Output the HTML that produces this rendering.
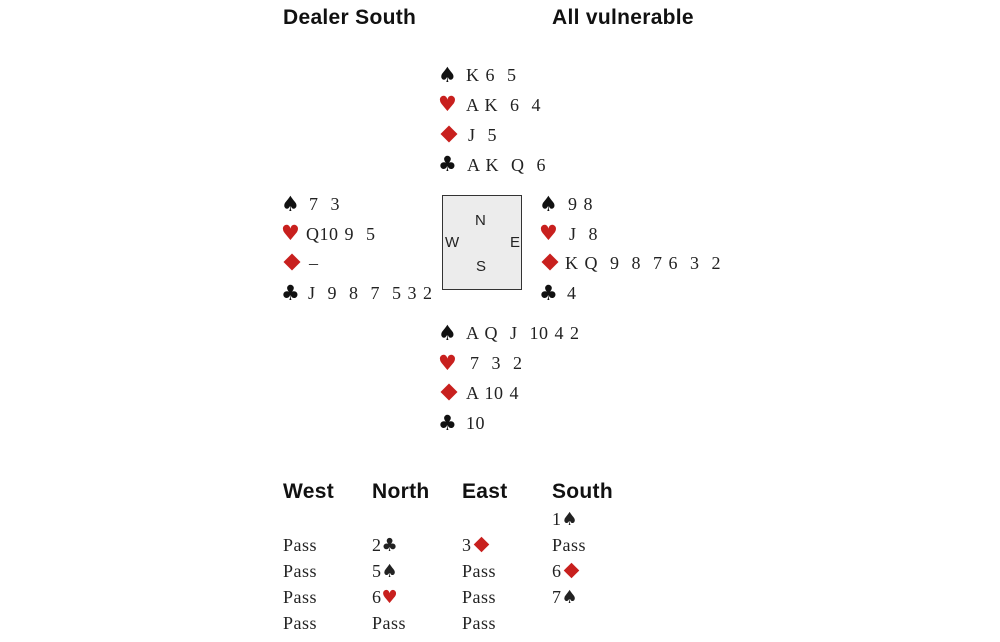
<!DOCTYPE html>
<html><head><meta charset="utf-8"><style>
body{margin:0;width:1000px;height:642px;background:#fff;position:relative;overflow:hidden;font-family:"Liberation Serif",serif;color:#222}
.t{position:absolute;font-size:18px;line-height:20px;white-space:pre;word-spacing:1px;letter-spacing:0.5px}
.h{position:absolute;font-family:"Liberation Sans",sans-serif;font-weight:bold;font-size:21px;line-height:24px;color:#111;white-space:pre;letter-spacing:0.3px}
.s{position:absolute;font-family:"DejaVu Sans",sans-serif;font-size:21px;line-height:20px;color:#111}
.r{color:#c8201e}
.d{position:absolute;width:12px;height:12px;background:#c8201e;transform:rotate(45deg)}
.di{display:inline-block;width:11px;height:11px;background:#c8201e;transform:rotate(45deg);margin-left:4px;vertical-align:1px}
.box{position:absolute;left:442px;top:195px;width:78px;height:93px;background:#ececec;border:1.5px solid #333}
.c{position:absolute;font-family:"Liberation Sans",sans-serif;font-size:15px;line-height:16px;color:#222}
.sym{font-family:"DejaVu Sans",sans-serif;font-size:18px}
</style></head><body>
<div class="h" style="left:283px;top:6px">Dealer South</div>
<div class="h" style="left:552px;top:6px">All vulnerable</div>

<div class="s" style="left:438px;top:65px">♠</div><div class="t" style="left:466px;top:65px">K 6  5</div>
<div class="s r" style="left:438px;top:94px">♥</div><div class="t" style="left:466px;top:95px">A K  6  4</div>
<div class="d" style="left:443px;top:128px"></div><div class="t" style="left:468px;top:125px">J  5</div>
<div class="s" style="left:438px;top:154px">♣</div><div class="t" style="left:467px;top:155px">A K  Q  6</div>

<div class="s" style="left:281px;top:194px">♠</div><div class="t" style="left:309px;top:194px">7  3</div>
<div class="s r" style="left:281px;top:223px">♥</div><div class="t" style="left:306px;top:224px">Q10 9  5</div>
<div class="d" style="left:286px;top:256px"></div><div class="t" style="left:309px;top:253px">–</div>
<div class="s" style="left:281px;top:283px">♣</div><div class="t" style="left:308px;top:283px">J  9  8  7  5 3 2</div>

<div class="box"></div>
<div class="c" style="left:475px;top:213px">N</div>
<div class="c" style="left:445px;top:235px">W</div>
<div class="c" style="left:510px;top:235px">E</div>
<div class="c" style="left:476px;top:259px">S</div>

<div class="s" style="left:539px;top:194px">♠</div><div class="t" style="left:568px;top:194px">9 8</div>
<div class="s r" style="left:539px;top:223px">♥</div><div class="t" style="left:569px;top:224px">J  8</div>
<div class="d" style="left:544px;top:256px"></div><div class="t" style="left:565px;top:253px">K Q  9  8  7 6  3  2</div>
<div class="s" style="left:539px;top:283px">♣</div><div class="t" style="left:567px;top:283px">4</div>

<div class="s" style="left:438px;top:323px">♠</div><div class="t" style="left:466px;top:323px">A Q  J  10 4 2</div>
<div class="s r" style="left:438px;top:353px">♥</div><div class="t" style="left:470px;top:353px">7  3  2</div>
<div class="d" style="left:443px;top:386px"></div><div class="t" style="left:466px;top:383px">A 10 4</div>
<div class="s" style="left:438px;top:413px">♣</div><div class="t" style="left:466px;top:413px">10</div>

<div class="h" style="left:283px;top:480px">West</div>
<div class="h" style="left:372px;top:480px">North</div>
<div class="h" style="left:462px;top:480px">East</div>
<div class="h" style="left:552px;top:480px">South</div>

<div class="t" style="left:552px;top:509px">1<span class="sym">♠</span></div>
<div class="t" style="left:283px;top:535px">Pass</div><div class="t" style="left:372px;top:535px">2<span class="sym">♣</span></div><div class="t" style="left:462px;top:535px">3<span class="di"></span></div><div class="t" style="left:552px;top:535px">Pass</div>
<div class="t" style="left:283px;top:561px">Pass</div><div class="t" style="left:372px;top:561px">5<span class="sym">♠</span></div><div class="t" style="left:462px;top:561px">Pass</div><div class="t" style="left:552px;top:561px">6<span class="di"></span></div>
<div class="t" style="left:283px;top:587px">Pass</div><div class="t" style="left:372px;top:587px">6<span class="sym r">♥</span></div><div class="t" style="left:462px;top:587px">Pass</div><div class="t" style="left:552px;top:587px">7<span class="sym">♠</span></div>
<div class="t" style="left:283px;top:613px">Pass</div><div class="t" style="left:372px;top:613px">Pass</div><div class="t" style="left:462px;top:613px">Pass</div>
</body></html>
